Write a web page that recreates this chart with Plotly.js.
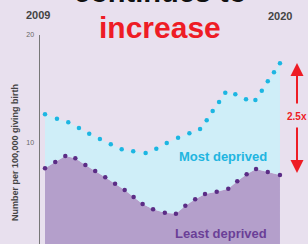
<!DOCTYPE html>
<html>
<head>
<meta charset="utf-8">
<script src="https://cdn.plot.ly/plotly-3.0.1.min.js"></script>
<style>html,body{margin:0;padding:0;background:#e8e0ee;}#chart{width:308px;height:244px;}</style>
</head>
<body>
<div id="chart"></div>
<script>
// Most deprived (cyan) series
const mostX = [2009.0, 2009.56, 2010.09, 2010.59, 2011.07, 2011.57, 2012.08, 2012.59, 2013.13, 2013.71, 2014.21, 2014.70, 2015.23, 2015.76, 2016.26, 2016.57, 2016.85, 2017.15, 2017.44, 2017.91, 2018.41, 2018.85, 2019.15, 2019.43, 2019.72, 2020.0];
const mostY = [12.64, 12.23, 11.89, 11.36, 10.84, 10.34, 9.85, 9.39, 9.20, 9.04, 9.44, 9.97, 10.46, 10.87, 11.27, 12.08, 12.94, 13.78, 14.64, 14.49, 14.03, 13.96, 14.83, 15.70, 16.54, 17.37];
// Least deprived (purple) series
const leastX = [2009.0, 2009.48, 2009.95, 2010.42, 2010.89, 2011.35, 2011.82, 2012.28, 2012.73, 2013.15, 2013.57, 2014.06, 2014.61, 2015.13, 2015.57, 2016.03, 2016.49, 2017.04, 2017.58, 2018.0, 2018.44, 2018.88, 2019.43, 2020.0];
const leastY = [7.62, 8.21, 8.77, 8.55, 7.93, 7.37, 6.79, 6.19, 5.61, 4.96, 4.31, 3.82, 3.50, 3.41, 4.15, 4.74, 5.24, 5.45, 5.73, 6.42, 7.07, 7.56, 7.28, 7.00];
const yTickVals = [10, 20];
const yTickText = ['10', '20'];
const startLabel = '2009';
const endLabel = '2020';

const W = 308, H = 244;
const M = {l: 40, r: 8, t: 35, b: 0};
const pw = W - M.l - M.r, ph = H - M.t - M.b;
const px = x => (x - M.l) / pw;
const py = y => (H - M.b - y) / ph;

const traces = [
  {x: leastX, y: leastY, type: 'scatter', mode: 'none', fill: 'tozeroy', fillcolor: '#b49fcb', hoverinfo: 'skip', showlegend: false},
  {x: mostX.concat(leastX.slice().reverse()), y: mostY.concat(leastY.slice().reverse()), type: 'scatter', mode: 'none', fill: 'toself', fillcolor: '#cfeef8', hoverinfo: 'skip', showlegend: false},
  {x: mostX, y: mostY, type: 'scatter', mode: 'markers', marker: {color: '#1cb6e2', size: 4.5}, showlegend: false},
  {x: leastX, y: leastY, type: 'scatter', mode: 'markers', marker: {color: '#5b2c86', size: 4.5}, showlegend: false}
];

const font = 'Liberation Sans, Arial, sans-serif';
const ann = (x, y, text, size, color, extra) => Object.assign({xref: 'paper', yref: 'paper', x: px(x), y: py(y), xanchor: 'center', yanchor: 'middle', text: text, showarrow: false, font: {size: size, color: color, family: font}}, extra || {});
const layout = {
  width: W, height: H,
  margin: M,
  paper_bgcolor: '#e8e0ee', plot_bgcolor: 'rgba(0,0,0,0)',
  xaxis: {range: [2009 - 5/21.36, 2009 + 255/21.36], visible: false, fixedrange: true},
  yaxis: {range: [20 - ph/10.77, 20], tickvals: yTickVals, ticktext: yTickText, showgrid: false, zeroline: false,
          showline: true, linecolor: '#777', linewidth: 1.5, ticks: 'outside', ticklen: 3, tickcolor: 'rgba(0,0,0,0)',
          tickfont: {size: 7, color: '#666', family: font}},
  showlegend: false,
  annotations: [
    ann(160, -8, '<b>continues to</b>', 29, '#111'),
    ann(160, 27, '<b>increase</b>', 30, '#ee1c25'),
    ann(38, 15, '<b>' + startLabel + '</b>', 11, '#444'),
    ann(280, 16, '<b>' + endLabel + '</b>', 11, '#444'),
    ann(15, 153, '<b>Number per 100,000 giving birth</b>', 9, '#444', {textangle: -90}),
    ann(223, 156, '<b>Most deprived</b>', 13, '#22b5e0'),
    ann(221, 233, '<b>Least deprived</b>', 13, '#6b3f97'),
    {xref: 'paper', yref: 'paper', x: px(297), y: py(63), ax: 0, ay: 42, text: '', showarrow: true, arrowhead: 2, arrowsize: 1.3, arrowwidth: 2, arrowcolor: '#ee1c25', standoff: 0},
    {xref: 'paper', yref: 'paper', x: px(297), y: py(173), ax: 0, ay: -47, text: '', showarrow: true, arrowhead: 2, arrowsize: 1.3, arrowwidth: 2, arrowcolor: '#ee1c25', standoff: 0},
    ann(285, 116, '<b>2.5x</b>', 10, '#ee1c25', {xanchor: 'left'})
  ]
};
Plotly.newPlot('chart', traces, layout, {displayModeBar: false, staticPlot: true});
</script>
</body>
</html>
